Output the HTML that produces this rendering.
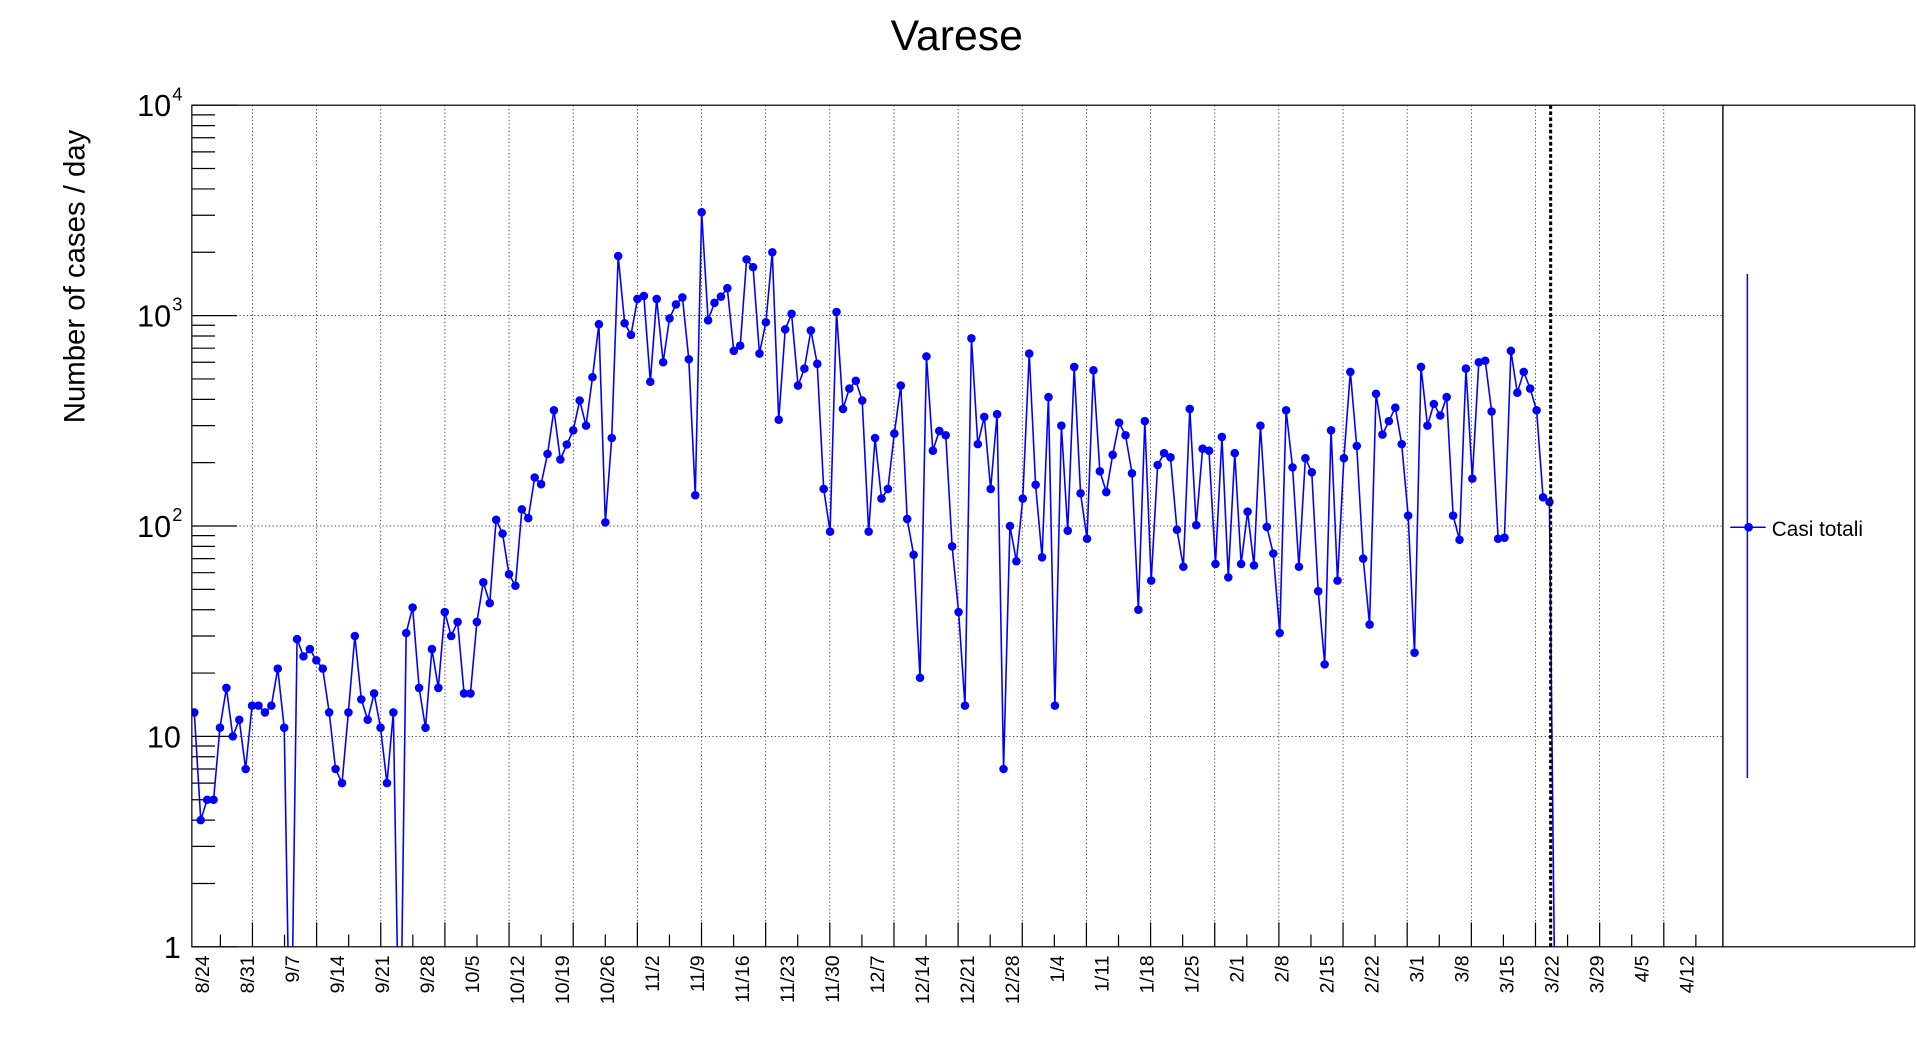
<!DOCTYPE html>
<html><head><meta charset="utf-8"><style>
html,body{margin:0;padding:0;background:#fff;}
svg{display:block;font-family:"Liberation Sans",sans-serif;}
</style></head><body>
<svg id="chart" width="1916" height="1052" viewBox="0 0 1568 860" preserveAspectRatio="none" xmlns="http://www.w3.org/2000/svg">
<defs><clipPath id="plotclip"><rect x="157" y="86" width="1253" height="688"/></clipPath></defs>
<rect x="0" y="0" width="1568" height="860" fill="#fff"/>
<text x="783" y="41" font-size="35" text-anchor="middle">Varese</text>
<text transform="translate(69,226) rotate(-90)" font-size="24" text-anchor="middle">Number of cases / day</text>
<g id="grid"></g>
<g id="axes"></g>
<g id="series" clip-path="url(#plotclip)"></g>
<line x1="1269" y1="86" x2="1269" y2="774" stroke="#000" stroke-width="2.5" stroke-dasharray="3,2"/>
<rect x="157" y="86" width="1253" height="688" fill="none" stroke="#000" stroke-width="1"/>
<rect x="1410" y="86" width="157" height="688" fill="none" stroke="#000" stroke-width="1"/>
<g>
<line x1="1430" y1="224" x2="1430" y2="636" stroke="#0000ff" stroke-width="1.2"/>
<line x1="1416" y1="431" x2="1445" y2="431" stroke="#0000ff" stroke-width="1.2"/>
<circle cx="1431" cy="431" r="3.6" fill="#0000ff"/>
<text x="1450" y="438" font-size="17">Casi totali</text>
</g>
</svg>
<script>
const dateLabels=["8/24","8/31","9/7","9/14","9/21","9/28","10/5","10/12","10/19","10/26","11/2","11/9","11/16","11/23","11/30","12/7","12/14","12/21","12/28","1/4","1/11","1/18","1/25","2/1","2/8","2/15","2/22","3/1","3/8","3/15","3/22","3/29","4/5","4/12"];
const yTickValues=[1,10,100,1000,10000];
const cases=[13,4,5,5,11,17,10,12,7,14,14,13,14,21,11,0,29,24,26,23,21,13,7,6,13,30,15,12,16,11,6,13,0,31,41,17,11,26,17,39,30,35,16,16,35,54,43,107,92,59,52,120,109,170,158,220,355,207,244,285,395,300,510,910,104,262,1920,920,810,1200,1240,485,1200,600,970,1130,1220,620,140,3100,950,1150,1230,1350,680,720,1850,1700,660,930,2000,320,860,1020,465,560,850,590,150,94,1040,360,450,490,395,94,262,135,150,275,465,108,73,19,640,228,283,270,80,39,14,780,245,330,150,340,7,100,68,135,660,157,71,410,14,300,95,570,143,87,550,182,145,218,310,270,178,40,315,55,195,222,212,96,64,360,101,233,228,66,265,57,222,66,117,65,300,99,74,31,355,190,64,210,180,49,22,285,55,210,540,240,70,34,425,272,315,365,245,112,25,570,300,380,335,410,112,86,560,168,600,610,350,87,88,680,430,540,450,355,137,130,0];
const NS="http://www.w3.org/2000/svg";
const X0=159,DX=5.256,YB=774,DEC=172;
function xs(i){return X0+i*DX;}
function ys(v){return v<=0?900:YB-Math.log10(v)*DEC;}
function mk(tag,attrs,parent){const e=document.createElementNS(NS,tag);for(const k in attrs)e.setAttribute(k,attrs[k]);parent.appendChild(e);return e;}
const grid=document.getElementById('grid'),axes=document.getElementById('axes'),series=document.getElementById('series');
for(let k=0;;k++){const x=180.35+k*26.25;if(x>=1410)break;const long=(k%2===1);
 const t=mk('line',{x1:x,y1:774,x2:x,y2:774-(long?20:10),stroke:'#000','stroke-width':1},axes);
 
 
 if(long){const g=mk('line',{x1:x,y1:86,x2:x,y2:774,stroke:'#000','stroke-width':0.6,'stroke-dasharray':'1,2'},grid);
 
 }}
dateLabels.forEach((s,i)=>{const x=165+i*(1380-165)/33;
 const t=mk('text',{transform:`translate(${x+6},${781}) rotate(-90)`,'font-size':16,'text-anchor':'end'},axes);
 t.textContent=s;
 
 });
for(let d=0;d<4;d++){for(let m=2;m<=9;m++){const y=ys(m*Math.pow(10,d));
 const t=mk('line',{x1:157,y1:y,x2:176,y2:y,stroke:'#000','stroke-width':1},axes);
 
 }}
yTickValues.forEach((v,i)=>{const y=ys(v);
 const t=mk('line',{x1:157,y1:y,x2:194,y2:y,stroke:'#000','stroke-width':1},axes);
 
 
 if(i>0&&i<4){const g=mk('line',{x1:157,y1:y,x2:1410,y2:y,stroke:'#000','stroke-width':0.6,'stroke-dasharray':'1,2'},grid);
  
  }
 const lab=mk('text',{x:i<2?148:140,y:y+9,'font-size':25,'text-anchor':'end'},axes);
 
 
 if(i<2){lab.textContent=String(v);}
 else{lab.textContent='10';const sup=mk('text',{x:141,y:y-4,'font-size':15},axes);sup.textContent=String(i);
  
  }
});
const pts=cases.map((v,i)=>xs(i).toFixed(1)+','+ys(v).toFixed(1)).join(' ');
const pl=mk('polyline',{points:pts,fill:'none',stroke:'#0000ff','stroke-width':1.3},series);


cases.forEach((v,i)=>{if(v<=0)return;
 const c=mk('circle',{cx:xs(i),cy:ys(v),r:3.5,fill:'#0000ff'},series);
 
 });
</script>
</body></html>
